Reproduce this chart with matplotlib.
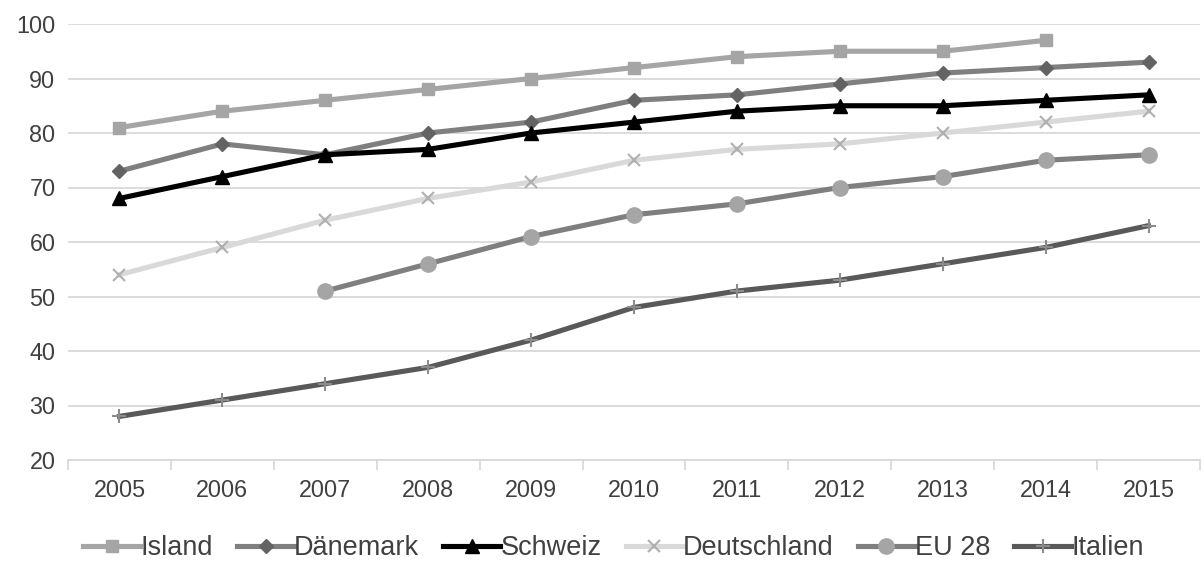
import matplotlib
matplotlib.use("Agg")
import matplotlib.pyplot as plt
import numpy as np

years = ["2005", "2006", "2007", "2008", "2009", "2010", "2011", "2012", "2013", "2014", "2015"]
nan = np.nan
island = [81, 84, 86, 88, 90, 92, 94, 95, 95, 97, nan]
daenemark = [73, 78, 76, 80, 82, 86, 87, 89, 91, 92, 93]
schweiz = [68, 72, 76, 77, 80, 82, 84, 85, 85, 86, 87]
deutschland = [54, 59, 64, 68, 71, 75, 77, 78, 80, 82, 84]
eu28 = [nan, nan, 51, 56, 61, 65, 67, 70, 72, 75, 76]
italien = [28, 31, 34, 37, 42, 48, 51, 53, 56, 59, 63]

plt.rcParams['font.family'] = ['Liberation Sans', 'DejaVu Sans']

fig = plt.figure(figsize=(12.04, 5.68), dpi=100)
ax = fig.add_axes([68/1204, 1 - 460/568, (1200-68)/1204, (460-24)/568])

x = np.arange(len(years))
series = [
    ("Island", island, "#A5A5A5", "s", "#A5A5A5", 9, None),
    ("Dänemark", daenemark, "#7F7F7F", "D", "#636363", 7.5, None),
    ("Schweiz", schweiz, "#000000", "^", "#000000", 10, None),
    ("Deutschland", deutschland, "#D9D9D9", "x", "#B0B0B0", 9, 1.5),
    ("EU 28", eu28, "#7F7F7F", "o", "#A5A5A5", 11, None),
    ("Italien", italien, "#595959", "+", "#8C8C8C", 10, 1.5),
]
for name, vals, lc, m, mc, ms, mew in series:
    kw = dict(color=lc, lw=3.7, marker=m, markersize=ms, markerfacecolor=mc,
              markeredgecolor=mc, label=name, solid_joinstyle='round')
    if mew:
        kw['markeredgewidth'] = mew
    ax.plot(x, vals, **kw)

ax.set_xlim(-0.5, len(years) - 0.5)
ax.set_ylim(20, 100)
ax.set_yticks(range(20, 101, 10))
ax.yaxis.grid(True, color="#D9D9D9", lw=1.3)
ax.set_axisbelow(True)
for s in ["top", "right", "left"]:
    ax.spines[s].set_visible(False)
ax.spines["bottom"].set_color("#D9D9D9")
ax.spines["bottom"].set_linewidth(1.3)
ax.tick_params(axis='y', length=0, labelsize=16.8, labelcolor="#404040", pad=9)
ax.set_xticks(x)
ax.set_xticklabels(years)
ax.tick_params(axis='x', length=0, labelsize=16.8, labelcolor="#404040", pad=14)
ax.set_xticks(np.arange(-0.5, len(years)), minor=True)
ax.tick_params(axis='x', which='minor', length=7, color="#D9D9D9", width=1.3)

ax.legend(loc='center', bbox_to_anchor=(0.482, -0.202), ncol=6, frameon=False,
          fontsize=19.5, handlelength=2.1, handletextpad=0.0, columnspacing=0.9,
          labelcolor="#404040")

fig.savefig("out.png", dpi=100)
